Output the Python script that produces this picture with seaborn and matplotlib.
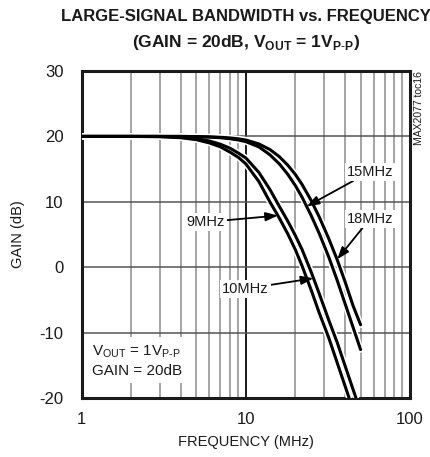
import matplotlib
matplotlib.use("Agg")
import matplotlib.pyplot as plt
from matplotlib.ticker import FixedLocator, LogLocator, NullFormatter, FixedFormatter
import seaborn as sns
import pandas as pd

# values
freq = [1, 2, 3, 4, 5, 6, 7, 8, 9, 10, 12, 14, 16, 18, 20, 22, 25, 28, 32, 36, 40, 45, 50]
gain_9mhz = [20, 20, 19.95, 19.8, 19.5, 19.0, 18.4, 17.6, 16.8, 15.8, 13.1, 10.0, 7.5, 5.1,
             2.7, 0.2, -3.5, -7.0, -10.8, -14.6, -18.0, -21.8, -25.2]
gain_10mhz = [20, 20, 20, 19.9, 19.65, 19.3, 18.8, 18.2, 17.45, 16.7, 14.5, 11.9, 9.3, 7.05,
              4.87, 2.7, -0.74, -4.05, -8.1, -11.5, -14.9, -18.7, -22.1]
gain_15mhz = [20, 20, 20, 20, 19.95, 19.9, 19.8, 19.65, 19.45, 19.2, 18.4, 17.2, 15.8, 14.2,
              12.5, 10.7, 7.9, 5.15, 1.55, -2.0, -5.4, -9.2, -12.6]
gain_18mhz = [20, 20, 20, 20, 19.98, 19.93, 19.87, 19.77, 19.63, 19.45, 18.85, 18.0, 16.9, 15.6,
              14.2, 12.65, 10.2, 7.68, 4.36, 1.15, -2.05, -5.9, -8.8]
curve_names = ["9MHz", "10MHz", "15MHz", "18MHz"]

y_ticks = [-20, -10, 0, 10, 20, 30]
x_ticks = [1, 10, 100]
x_tick_labels = ["1", "10", "100"]

rows = []
for name, gains in zip(curve_names, [gain_9mhz, gain_10mhz, gain_15mhz, gain_18mhz]):
    for f, g in zip(freq, gains):
        rows.append({"curve": name, "freq": f, "gain": g})
df = pd.DataFrame(rows)

sns.set_style("white")
font = "Liberation Sans"
plt.rcParams["font.family"] = [font, "DejaVu Sans"]
plt.rcParams["mathtext.fontset"] = "custom"
plt.rcParams["mathtext.rm"] = font
plt.rcParams["mathtext.bf"] = font + ":bold"
plt.rcParams["axes.unicode_minus"] = False

fig = plt.figure(figsize=(4.31, 4.57), dpi=100)
ax = fig.add_axes([0.1896, 0.1291, 0.7617, 0.7155])

# white halo under each curve, then the black curve
sns.lineplot(data=df, x="freq", y="gain", hue="curve", palette=["white"] * 4,
             linewidth=4.5, legend=False, ax=ax, zorder=3)
sns.lineplot(data=df, x="freq", y="gain", hue="curve", palette=["black"] * 4,
             linewidth=2.2, legend=False, ax=ax, zorder=4)

ax.set_xscale("log")
ax.set_xlim(1, 100)
ax.set_ylim(-20, 30)
ax.xaxis.set_major_locator(FixedLocator(x_ticks))
ax.xaxis.set_major_formatter(FixedFormatter(x_tick_labels))
ax.xaxis.set_minor_locator(LogLocator(base=10, subs=range(2, 10)))
ax.xaxis.set_minor_formatter(NullFormatter())
ax.yaxis.set_major_locator(FixedLocator(y_ticks))

ax.grid(which="minor", axis="x", color="#8c8c8c", lw=1.1)
ax.grid(which="major", axis="x", color="#1a1a1a", lw=1.4)
ax.grid(which="major", axis="y", color="#555555", lw=1.1)
ax.set_axisbelow(True)

ax.tick_params(which="both", length=0, labelsize=12, labelcolor="#1a1a1a")
ax.tick_params(axis="y", pad=13)
ax.tick_params(axis="x", pad=10)
for sp in ax.spines.values():
    sp.set_linewidth(2.2)
    sp.set_color("#1a1a1a")

ax.set_xlabel("FREQUENCY (MHz)", fontsize=10.5, color="#1a1a1a")
ax.xaxis.set_label_coords(0.5, -0.135)
ax.xaxis.label.set_va("center")
ax.set_ylabel("GAIN (dB)", fontsize=10.5, color="#1a1a1a")
ax.yaxis.set_label_coords(-0.194, 0.5)
ax.yaxis.label.set_va("center")

fig.text(0.571, 0.963, "LARGE-SIGNAL BANDWIDTH vs. FREQUENCY", ha="center", va="center",
         fontsize=12, fontweight="bold", color="#1a1a1a")
fig.text(0.571, 0.908, r"(GAIN = 20dB, V$_{\mathbf{OUT}}$ = 1V$_{\mathbf{P\text{-}P}}$)",
         ha="center", va="center", fontsize=12.5, fontweight="bold", color="#1a1a1a")

fig.text(0.972, 0.764, "MAX2077 toc16", rotation=90, ha="center", va="center",
         fontsize=7.5, color="#1a1a1a")

box = dict(facecolor="white", edgecolor="none", pad=1.5)
arrow = dict(arrowstyle="-|>,head_length=0.7,head_width=0.25", color="black", lw=1.3,
             shrinkA=0, shrinkB=0)
label_style = dict(fontsize=10.5, ha="center", va="center", bbox=box, zorder=6,
                   arrowprops=arrow, color="#1a1a1a")
ax.annotate("15MHz", xy=(23.5, 9.3), xytext=(57, 14.6), **label_style)
ax.annotate("18MHz", xy=(36, 1.2), xytext=(57, 7.4), **label_style)
ax.annotate("9MHz", xy=(15.7, 7.9), xytext=(5.7, 6.9), **label_style)
ax.annotate("10MHz", xy=(25.8, -1.7), xytext=(9.9, -3.3), **label_style)

ax.text(1.16, -14.3, "V$_{\\mathrm{OUT}}$ = 1V$_{\\mathrm{P\\text{-}P}}$\nGAIN = 20dB",
        fontsize=11, ha="left", va="center", linespacing=1.3, zorder=6, color="#1a1a1a",
        bbox=dict(facecolor="white", edgecolor="none", pad=4))

fig.savefig("out.png", dpi=100)
